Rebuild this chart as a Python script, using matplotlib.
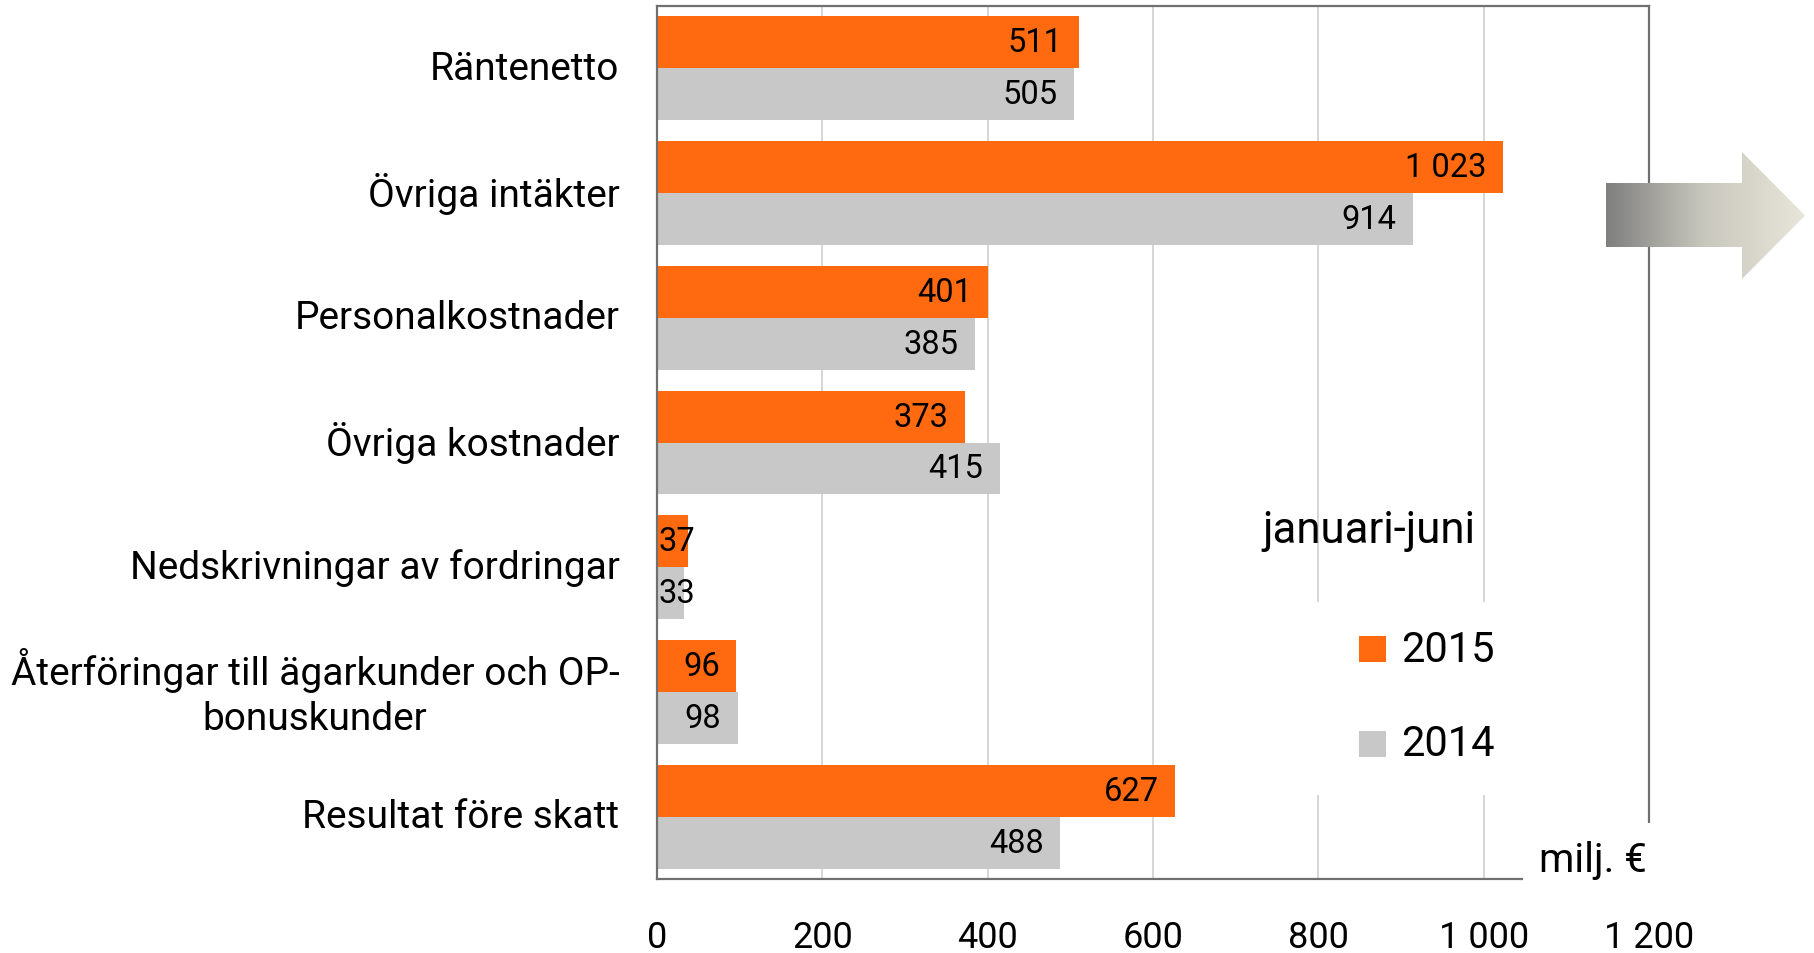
import matplotlib
matplotlib.use("Agg")
import matplotlib.pyplot as plt
import numpy as np
from matplotlib.patches import Polygon
from matplotlib.colors import LinearSegmentedColormap

categories = ["Räntenetto", "Övriga intäkter", "Personalkostnader", "Övriga kostnader",
              "Nedskrivningar av fordringar", "Återföringar till ägarkunder och OP-\nbonuskunder",
              "Resultat före skatt"]
v2015 = [511, 1023, 401, 373, 37, 96, 627]
v2014 = [505, 914, 385, 415, 33, 98, 488]
xticks = [0, 200, 400, 600, 800, 1000, 1200]
xticklabels = ["0", "200", "400", "600", "800", "1 000", "1 200"]

plt.rcParams['font.family'] = ['Roboto', 'DejaVu Sans']

W, H = 1814, 954
fig = plt.figure(figsize=(W / 100, H / 100), dpi=100)
ax = fig.add_axes([657 / W, 1 - 880 / H, (1649 - 657) / W, (880 - 7) / H])

orange = "#FF6A10"
grey = "#C8C8C8"
y = np.arange(len(categories))
h = 0.416
ax.barh(y - h / 2, v2015, height=h, color=orange, zorder=2)
ax.barh(y + h / 2, v2014, height=h, color=grey, zorder=2)

def fmt(v):
    return f"{v:,}".replace(",", " ")

for yy, vals in [(y - h / 2, v2015), (y + h / 2, v2014)]:
    for yi, v in zip(yy, vals):
        if v < 60:
            ax.annotate(fmt(v), (0, yi), xytext=(1, 0), textcoords="offset points",
                        ha="left", va="center", fontsize=23.5, zorder=3)
        else:
            ax.annotate(fmt(v), (v, yi), xytext=(-12, 0), textcoords="offset points",
                        ha="right", va="center", fontsize=23.5, zorder=3)

ax.set_xlim(0, 1200)
ax.set_ylim(6.5, -0.5)
ax.set_yticks(y)
ax.set_yticklabels(categories, fontsize=28, multialignment="center", va="center",
                   linespacing=1.3)
ax.set_xticks(xticks)
ax.set_xticklabels(xticklabels, fontsize=26)
ax.tick_params(axis="both", length=0)
ax.tick_params(axis="y", pad=27)
ax.tick_params(axis="x", pad=29)
ax.grid(axis="x", color="#D0D0D0", lw=1.2, zorder=0)
ax.set_axisbelow(True)
for s in ax.spines.values():
    s.set_color("#707070")
    s.set_linewidth(1.6)

# white box behind "milj. €" covering the lower-right corner
fig.text(1647 / W, 1 - 872 / H, "milj. €", fontsize=29, ha="right", va="baseline",
         bbox=dict(facecolor="white", edgecolor="none", pad=12))

# legend area
fig.patches.append(plt.Rectangle((1290 / W, 1 - 796 / H), 340 / W, 193 / H,
                                 transform=fig.transFigure, facecolor="white",
                                 edgecolor="none", zorder=1))
fig.text(1262 / W, 1 - 543 / H, "januari-juni", fontsize=31.5, ha="left", va="baseline")
for yc, col, lab in [(650, orange, "2015"), (745, grey, "2014")]:
    fig.patches.append(plt.Rectangle((1359 / W, 1 - (yc + 13) / H), 27 / W, 26 / H,
                                     transform=fig.transFigure, facecolor=col,
                                     edgecolor="none", zorder=2))
    fig.text(1401 / W, 1 - yc / H, lab, fontsize=30, ha="left", va="center")

# gradient arrow
aax = fig.add_axes([1606 / W, 1 - 280 / H, (1805 - 1606) / W, (280 - 153) / H])
aax.set_xlim(0, 1)
aax.set_ylim(0, 1)
aax.axis("off")
grad = np.linspace(0, 1, 256).reshape(1, -1)
cmap = LinearSegmentedColormap.from_list("arr", ["#7F7F7F", "#C9C8BE", "#E8E6DA"])
im = aax.imshow(grad, extent=[0, 1, 0, 1], aspect="auto", cmap=cmap)
rx = (1742 - 1606) / (1805 - 1606)
r0 = (280 - 248) / (280 - 153)
r1 = (280 - 184) / (280 - 153)
poly = Polygon([(0, r0), (rx, r0), (rx, 0), (1, 0.5), (rx, 1), (rx, r1), (0, r1)],
               closed=True, transform=aax.transData, facecolor="none", edgecolor="none")
aax.add_patch(poly)
im.set_clip_path(poly)

fig.savefig("out.png", dpi=100)
